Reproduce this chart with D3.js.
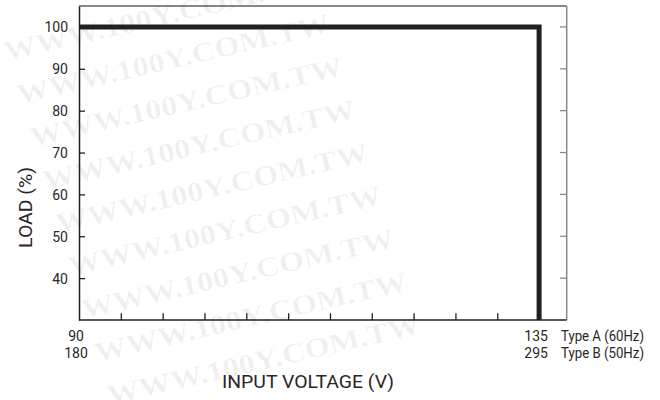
<!DOCTYPE html>
<html>
<head>
<meta charset="utf-8">
<script src="https://cdn.jsdelivr.net/npm/d3@7"></script>
<style>
  html, body { margin: 0; padding: 0; background: #fff; }
  svg { display: block; }
  .lbl { font-family: "Roboto", "Liberation Sans", sans-serif; font-weight: 400; fill: #2a2627; }
</style>
</head>
<body>
<svg id="chart" width="660" height="400"></svg>
<script>
// ---- data ----
const loadTicks = [40, 50, 60, 70, 80, 90, 100];
const curveVoltageA = [90, 135, 135];      // Type A input voltage (V)
const curveLoad = [100, 100, 30];          // load (%)
const voltLabelsA = [90, 135];             // Type A tick labels
const voltLabelsB = [180, 295];            // Type B tick labels
const typeNames = ["Type A (60Hz)", "Type B (50Hz)"];
const minorTickCount = 11;                 // intervals between 90 and 135
const watermark = "WWW.100Y.COM.TW";
const watermarkRows = [15, 58, 101, 144, 187, 230, 273, 316, 359];

const W = 660, H = 400;
const margin = { left: 79, right: 93.3, top: 6, bottom: 80 };
const x0 = margin.left, x1 = W - margin.right, y0 = margin.top, y1 = H - margin.bottom;

const svg = d3.select("#chart");

const x = d3.scaleLinear().domain([90, 137.7]).range([x0, x1]);
const y = d3.scaleLinear().domain([30, 105]).range([y1, y0]);

// ---- watermark ----
const wm = svg.append("g");
wm.selectAll("text").data(watermarkRows).enter().append("text")
  .attr("transform", d => `translate(${158 + 0.3 * d},${d + 10}) rotate(-13)`)
  .attr("text-anchor", "middle")
  .attr("font-family", "Liberation Serif, DejaVu Serif, serif")
  .attr("font-weight", "bold")
  .attr("font-size", 28)
  .attr("textLength", 320)
  .attr("lengthAdjust", "spacingAndGlyphs")
  .attr("fill", "#000")
  .attr("fill-opacity", 0.06)
  .text(watermark);

// ---- frame: top (black) and right (gray) ----
svg.append("line").attr("x1", x0).attr("x2", x1).attr("y1", y0).attr("y2", y0)
  .attr("stroke", "#111").attr("stroke-width", 1.2);
svg.append("line").attr("x1", x1).attr("x2", x1).attr("y1", y0).attr("y2", y1)
  .attr("stroke", "#8a8a8a").attr("stroke-width", 1.5);

// right ticks
svg.selectAll(".rt").data(loadTicks).enter().append("line")
  .attr("x1", x1 - 6.7).attr("x2", x1).attr("y1", d => y(d)).attr("y2", d => y(d))
  .attr("stroke", "#8a8a8a").attr("stroke-width", 1.3);

// ---- left axis ----
const yAxis = d3.axisLeft(y).tickValues(loadTicks).tickSizeInner(-6).tickSizeOuter(0).tickPadding(11);
const gy = svg.append("g").attr("transform", `translate(${x0},0)`).call(yAxis);
gy.attr("font-family", null).attr("font-size", null);
gy.select(".domain").attr("stroke", "#231f20").attr("stroke-width", 1.5);
gy.selectAll(".tick line").attr("stroke", "#231f20").attr("stroke-width", 1.3);
gy.selectAll(".tick text").attr("class", "lbl").attr("font-size", 14).attr("fill", null)
  .attr("dy", "0.36em");

// ---- bottom axis ----
const minorTicks = d3.range(1, minorTickCount).map(i => 90 + i * 45 / minorTickCount);
const xAxis = d3.axisBottom(x).tickValues(minorTicks).tickSizeInner(-6.7).tickSizeOuter(0).tickFormat("");
const gx = svg.append("g").attr("transform", `translate(0,${y1})`).call(xAxis);
gx.select(".domain").attr("stroke", "#231f20").attr("stroke-width", 1.5)
  .attr("d", `M${x0},0H${x1}`);
gx.selectAll(".tick line").attr("stroke", "#231f20").attr("stroke-width", 1.3);

// bottom labels
svg.selectAll(".la").data(voltLabelsA).enter().append("text").attr("class", "lbl")
  .attr("x", d => x(d) - 3).attr("y", 341).attr("text-anchor", "middle").attr("font-size", 14)
  .text(d => d);
svg.selectAll(".lb").data(voltLabelsB).enter().append("text").attr("class", "lbl")
  .attr("x", (d, i) => x(voltLabelsA[i]) - 3).attr("y", 358).attr("text-anchor", "middle").attr("font-size", 14)
  .text(d => d);
svg.selectAll(".tn").data(typeNames).enter().append("text").attr("class", "lbl")
  .attr("x", 561).attr("y", (d, i) => 341 + i * 17).attr("font-size", 14)
  .attr("textLength", 83).attr("lengthAdjust", "spacingAndGlyphs")
  .text(d => d);

// axis titles
svg.append("text").attr("class", "lbl").attr("x", 308).attr("y", 388)
  .attr("text-anchor", "middle").attr("font-size", 18)
  .attr("textLength", 172).attr("lengthAdjust", "spacingAndGlyphs")
  .text("INPUT VOLTAGE (V)");
svg.append("text").attr("class", "lbl").attr("transform", "translate(31.5,207.5) rotate(-90)")
  .attr("text-anchor", "middle").attr("font-size", 18)
  .attr("textLength", 81).attr("lengthAdjust", "spacingAndGlyphs")
  .text("LOAD (%)");

// ---- curve ----
const line = d3.line().x(d => x(d[0])).y(d => y(d[1]));
svg.append("path")
  .datum(curveVoltageA.map((v, i) => [v, curveLoad[i]]))
  .attr("d", line)
  .attr("fill", "none").attr("stroke", "#231f20").attr("stroke-width", 5)
  .attr("stroke-linejoin", "miter");
</script>
</body>
</html>
